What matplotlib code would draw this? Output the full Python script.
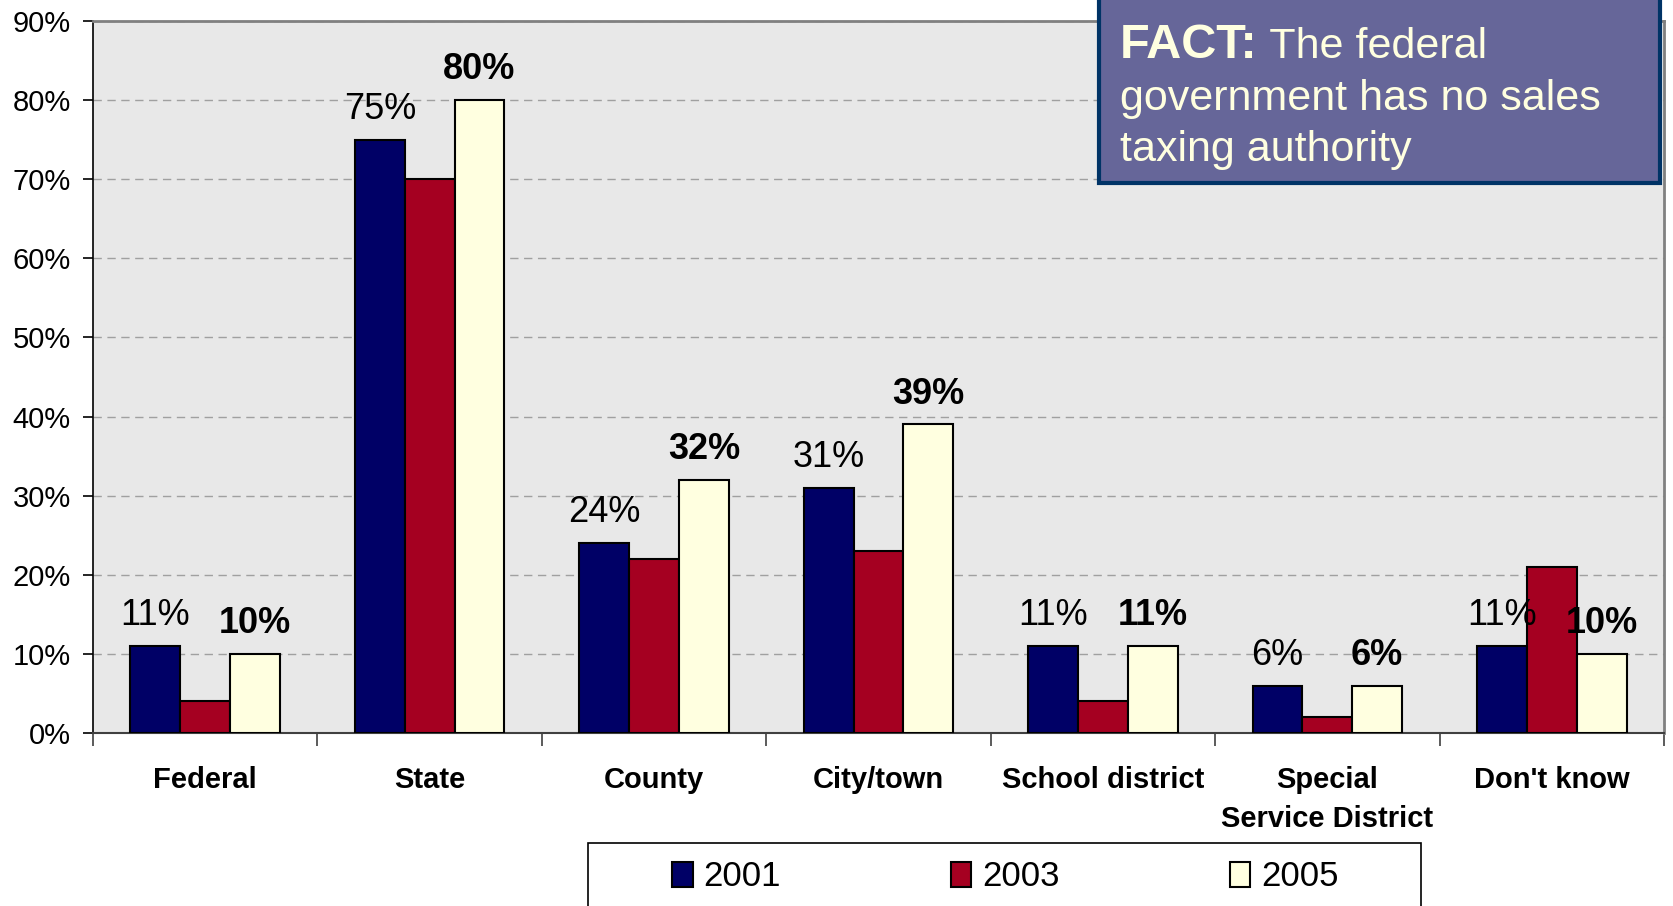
import numpy as np
import matplotlib
matplotlib.use("Agg")
import matplotlib.pyplot as plt
from matplotlib.patches import Rectangle
from matplotlib.ticker import FixedLocator, FuncFormatter

plt.rcParams['font.family'] = ['Liberation Sans', 'DejaVu Sans']

categories = ["Federal", "State", "County", "City/town", "School district",
              "Special\nService District", "Don't know"]
years = ["2001", "2003", "2005"]
v2001 = [11, 75, 24, 31, 11, 6, 11]
v2003 = [4, 70, 22, 23, 4, 2, 21]
v2005 = [10, 80, 32, 39, 11, 6, 10]
colors = ["#000066", "#A50021", "#FFFFE0"]
fact_lead = "FACT:"
fact_text = [" The federal", "government has no sales", "taxing authority"]

W, H = 1674, 906
fig = plt.figure(figsize=(W / 100, H / 100), dpi=100)
ax = fig.add_axes([93 / W, 1 - 733 / H, (1664 - 93) / W, (733 - 21) / H])
ax.set_facecolor("#E8E8E8")

x = np.arange(len(categories))
bw = 2 / 9
series = [v2001, v2003, v2005]
bars = []
for i, vals in enumerate(series):
    b = ax.bar(x + (i - 1) * bw, vals, bw, color=colors[i], edgecolor="black",
               linewidth=1.5, label=years[i], zorder=3)
    bars.append(b)

# value labels: 2001 regular, 2005 bold
for rect, v in zip(bars[0], v2001):
    ax.annotate(f"{v}%", (rect.get_x() + rect.get_width() / 2, v),
                xytext=(0, 15), textcoords="offset points", ha="center",
                va="baseline", fontsize=26, zorder=5)
for rect, v in zip(bars[2], v2005):
    ax.annotate(f"{v}%", (rect.get_x() + rect.get_width() / 2, v),
                xytext=(0, 15), textcoords="offset points", ha="center",
                va="baseline", fontsize=26, fontweight="bold", zorder=5)

ax.set_xlim(-0.5, len(categories) - 0.5)
ax.set_ylim(0, 90)
ax.set_yticks(np.arange(0, 91, 10))
ax.yaxis.set_major_formatter(FuncFormatter(lambda v, p: f"{v:.0f}%"))
ax.tick_params(axis="y", labelsize=21, length=7, width=1.2, pad=9)
ax.grid(axis="y", color="#A0A0A0", linestyle=(0, (6, 4)), linewidth=1, zorder=1)

ax.set_xticks(x)
ax.set_xticklabels(categories, fontsize=21, fontweight="bold", linespacing=1.5)
ax.tick_params(axis="x", length=0, pad=24)
ax.xaxis.set_minor_locator(FixedLocator(np.arange(-0.5, len(categories), 1)))
ax.tick_params(axis="x", which="minor", length=9, width=1.2, color="#404040")

for s in ["top", "right"]:
    ax.spines[s].set_color("#808080")
    ax.spines[s].set_linewidth(2)
ax.spines["left"].set_color("black")
ax.spines["bottom"].set_color("#404040")
ax.spines["left"].set_linewidth(1.2)
ax.spines["bottom"].set_linewidth(1.5)

# legend box
fig.patches.append(Rectangle((588 / W, -0.01), (1421 - 588) / W, 1 - 843 / H + 0.01,
                             transform=fig.transFigure, facecolor="white",
                             edgecolor="black", linewidth=1.2))
fig.legend(handles=[b[0] for b in bars], labels=years, loc="center",
           bbox_to_anchor=(1005 / W, 1 - 877 / H), ncol=3, frameon=False,
           fontsize=25, handlelength=0.6, handleheight=0.75, handletextpad=0.3,
           columnspacing=4.9)

# FACT box
fig.patches.append(Rectangle((1099 / W, 1 - 183 / H), (1660 - 1099) / W, 183 / H + 0.01,
                             transform=fig.transFigure, facecolor="#666699",
                             edgecolor="#003366", linewidth=3, zorder=10))
fc = "#FFFFE0"
t0 = fig.text(1120 / W, 1 - 58 / H, fact_lead, fontsize=35, fontweight="bold",
              color=fc, va="baseline", ha="left", zorder=11)
fig.canvas.draw()
bb = t0.get_window_extent()
fig.text(bb.x1 / W, 1 - 58 / H, fact_text[0], fontsize=31, color=fc,
         va="baseline", ha="left", zorder=11)
fig.text(1120 / W, 1 - 110 / H, fact_text[1], fontsize=31, color=fc,
         va="baseline", ha="left", zorder=11)
fig.text(1120 / W, 1 - 161 / H, fact_text[2], fontsize=31, color=fc,
         va="baseline", ha="left", zorder=11)

fig.savefig("out.png", dpi=100)
